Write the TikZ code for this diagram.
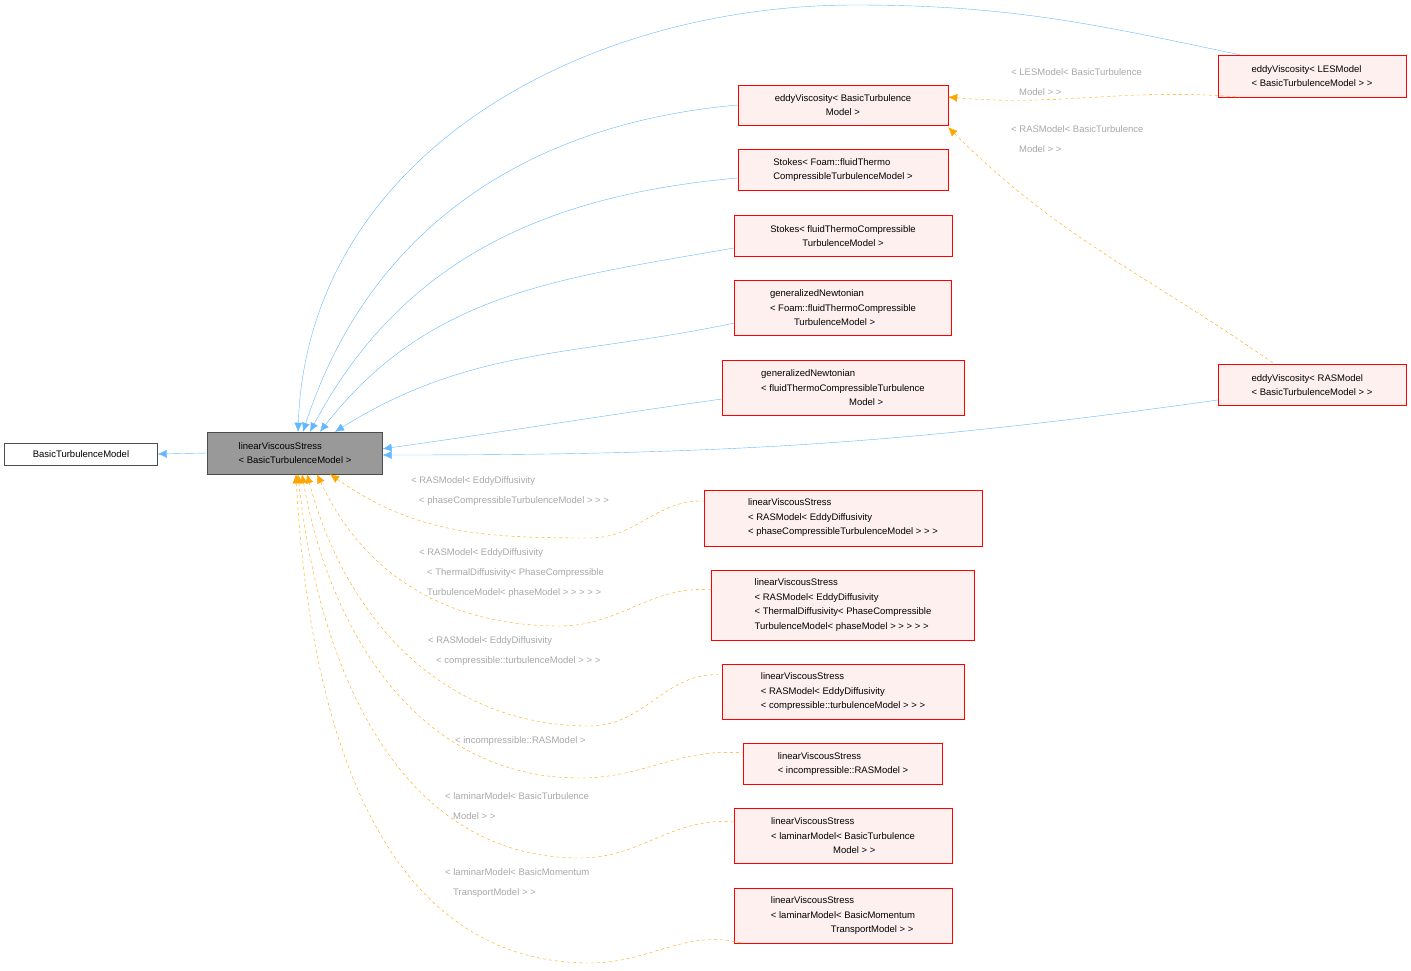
\documentclass[tikz,border=0pt]{standalone}
\usepackage{fontspec}
\setmainfont{Liberation Sans}
\usetikzlibrary{arrows.meta}
\definecolor{inhblue}{HTML}{63B8FF}
\definecolor{tmplorange}{HTML}{FFA500}
\definecolor{boxred}{HTML}{FF0000}
\definecolor{boxfill}{HTML}{FFF0F0}
\definecolor{lblgray}{HTML}{A8A8A8}
\tikzset{
  cls/.style={draw=boxred, fill=boxfill, inner sep=2pt, font=\fontsize{9.5}{14.5}\selectfont},
  inh/.style={draw=inhblue, {Latex[length=9pt,width=8pt]}-},
  tpl/.style={draw=tmplorange, dashed, {Latex[length=9pt,width=8pt]}-},
  lbl/.style={text=lblgray, anchor=north west, align=left, inner sep=0pt, font=\fontsize{9.5}{20}\selectfont},
}
\begin{document}
\begin{tikzpicture}[x=1pt, y=-1pt]
\useasboundingbox (0,0) rectangle (1411,970);

% classes
\node[draw=black!70, fill=white, minimum width=153, minimum height=22, inner sep=2pt, font=\fontsize{9.5}{14.5}\selectfont] (btm) at (81,454) {BasicTurbulenceModel};
\node[draw=black!70, fill=black!40, minimum width=175, minimum height=42, align=left, inner sep=2pt, font=\fontsize{9.5}{14.5}\selectfont] (lvs) at (295,453) {linearViscousStress\\< BasicTurbulenceModel >};

\node[cls, minimum width=188, minimum height=42, align=left] (les) at (1312,76) {eddyViscosity< LESModel\\< BasicTurbulenceModel > >};
\node[cls, minimum width=188, minimum height=41, align=left] (ras) at (1312,385) {eddyViscosity< RASModel\\< BasicTurbulenceModel > >};
\node[cls, minimum width=210, minimum height=40, align=center] (eddyb) at (843,105) {eddyViscosity< BasicTurbulence\\Model >};
\node[cls, minimum width=210, minimum height=41, align=left] (stka) at (843,170) {Stokes< Foam::fluidThermo\\CompressibleTurbulenceModel >};
\node[cls, minimum width=218, minimum height=41, align=center] (stkb) at (843,236) {Stokes< fluidThermoCompressible\\TurbulenceModel >};
\node[cls, minimum width=217, minimum height=55, align=left] (gna) at (843,308) {generalizedNewtonian\\< Foam::fluidThermoCompressible\\\hspace*{24pt}TurbulenceModel >};
\node[cls, minimum width=242, minimum height=55, align=left] (gnb) at (843,388) {generalizedNewtonian\\< fluidThermoCompressibleTurbulence\\\hspace*{88pt}Model >};
\node[cls, minimum width=278, minimum height=56, align=left] (lvpc) at (843,518) {linearViscousStress\\< RASModel< EddyDiffusivity\\< phaseCompressibleTurbulenceModel > > >};
\node[cls, minimum width=263, minimum height=70, align=left] (lvth) at (843,605) {linearViscousStress\\< RASModel< EddyDiffusivity\\< ThermalDiffusivity< PhaseCompressible\\TurbulenceModel< phaseModel > > > > >};
\node[cls, minimum width=242, minimum height=55, align=left] (lvcm) at (843,692) {linearViscousStress\\< RASModel< EddyDiffusivity\\< compressible::turbulenceModel > > >};
\node[cls, minimum width=199, minimum height=41, align=left] (lvin) at (843,764) {linearViscousStress\\< incompressible::RASModel >};
\node[cls, minimum width=218, minimum height=55, align=left] (lvlt) at (843,836) {linearViscousStress\\< laminarModel< BasicTurbulence\\\hspace*{62pt}Model > >};
\node[cls, minimum width=218, minimum height=55, align=left] (lvlm) at (843,916) {linearViscousStress\\< laminarModel< BasicMomentum\\\hspace*{60pt}TransportModel > >};

% inheritance
\draw[inh] (btm.east) -- (lvs.west);
\draw[inh] ([xshift=3]lvs.north) to[out=88,in=180] (855,5) to[out=0,in=168] ([xshift=22]les.north west);
\draw[inh] ([xshift=8]lvs.north) to[out=72,in=185] (eddyb.west);
\draw[inh] ([xshift=15]lvs.north) to[out=62,in=185] ([yshift=-8]stka.west);
\draw[inh] ([xshift=25]lvs.north) to[out=52,in=190] ([yshift=-12]stkb.west);
\draw[inh] ([xshift=40]lvs.north) to[out=32,in=192] ([yshift=-15]gna.west);
\draw[inh] ([yshift=-17]lvs.north east) to[out=8,in=188] ([yshift=-11]gnb.west);
\draw[inh] ([yshift=-2]lvs.east) to[out=0,in=188] ([yshift=-15]ras.west);

% template instances
\draw[tpl] ([yshift=8]eddyb.east) to[out=-5,in=175] ([xshift=22]les.south west);
\draw[tpl] ([yshift=-2]eddyb.south east) to[out=-45,in=145] ([xshift=57]ras.north west);
\node[lbl] (lesl) at (1011,68) {< LESModel< BasicTurbulence\\\hspace*{8pt}Model > >};
\node[lbl] (rasl) at (1011,125) {< RASModel< BasicTurbulence\\\hspace*{8pt}Model > >};

\draw[tpl] ([xshift=35]lvs.south) to[out=-35,in=180] (590,538) to[out=0,in=178] ([yshift=17]lvpc.west);
\draw[tpl] ([xshift=22]lvs.south) to[out=-65,in=180] (560,626) to[out=0,in=175] ([yshift=15]lvth.west);
\draw[tpl] ([xshift=12]lvs.south) to[out=-75,in=180] (590,726) to[out=0,in=175] ([yshift=17]lvcm.west);
\draw[tpl] ([xshift=7]lvs.south) to[out=-80,in=180] (580,778) to[out=0,in=175] ([yshift=11]lvin.west);
\draw[tpl] ([xshift=3]lvs.south) to[out=-84,in=180] (580,858) to[out=0,in=175] ([yshift=14]lvlt.west);
\draw[tpl] ([xshift=1]lvs.south) to[out=-87,in=180] (590,963) to[out=0,in=165] ([xshift=10]lvlm.south west);

\node[lbl] (pcl) at (411,476) {< RASModel< EddyDiffusivity\\\hspace*{8pt}< phaseCompressibleTurbulenceModel > > >};
\node[lbl] (thl) at (419,548) {< RASModel< EddyDiffusivity\\\hspace*{8pt}< ThermalDiffusivity< PhaseCompressible\\\hspace*{8pt}TurbulenceModel< phaseModel > > > > >};
\node[lbl] (cml) at (428,636) {< RASModel< EddyDiffusivity\\\hspace*{8pt}< compressible::turbulenceModel > > >};
\node[lbl] (inl) at (455,736) {< incompressible::RASModel >};
\node[lbl] (ltl) at (445,792) {< laminarModel< BasicTurbulence\\\hspace*{8pt}Model > >};
\node[lbl] (lml) at (445,868) {< laminarModel< BasicMomentum\\\hspace*{8pt}TransportModel > >};
\end{tikzpicture}
\end{document}
